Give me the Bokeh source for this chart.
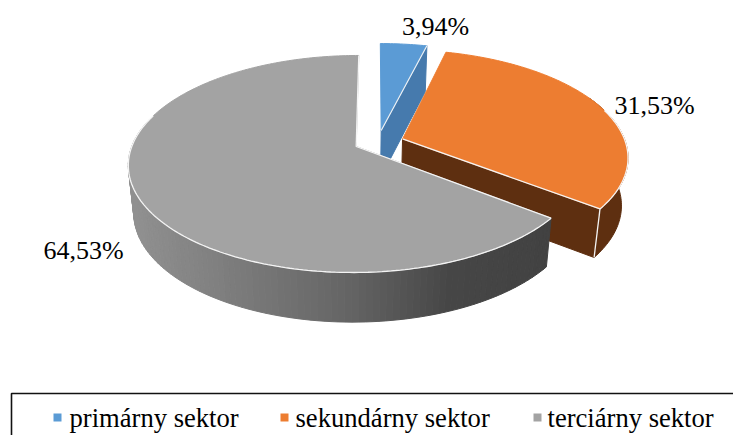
import math
from bokeh.core.properties import value
from bokeh.embed import file_html
from bokeh.models import Range1d
from bokeh.plotting import figure
from bokeh.resources import INLINE

# ---- data ----
sectors = ["primárny sektor", "sekundárny sektor", "terciárny sektor"]
shares = [3.94, 31.53, 64.53]
labels = ["3,94%", "31,53%", "64,53%"]

# ---- style ----
top_colors = ["#5b9bd5", "#ed7d31", "#a3a3a3"]
wall_colors = ["#467aad", "#5e2f10", "#666666"]
edge = "#f4f4f4"
FONT = value("Liberation Serif")
LABEL_SIZE = "26px"
LEGEND_SIZE = "26.6px"

# ---- projection of the tilted disc (pixel-like scale of the picture) ----
CX, CY = 355.7, 146.0
BX, SKEW, AY, K = 224.4, -3.0, 105.7, -0.161
BX_LOW, Y_LOW, AY_LOW = 219.0, 193.5, 107.5
explode = [(0.112, -0.155), (0.208, -0.072), (0.0, 0.0)]
label_pos = [(435, 26), (654, 105), (83, 250)]
legend_text_x = [69, 295, 547]
legend_swatch_x = [57, 284, 537]
LEGEND_Y = 417


def project(X, Y, low=False):
    w = 1 + K * Y
    bx = BX_LOW if low else BX
    y0 = Y_LOW if low else CY
    ay = AY_LOW if low else AY
    return CX + (bx * X + SKEW * Y) / w, y0 + ay * Y / w


def rim(a_deg, off, low=False):
    a = math.radians(a_deg)
    return project(off[0] + math.sin(a), off[1] - math.cos(a), low)


def arc(a0, a1, off, low=False, step=1.0):
    n = max(2, int(abs(a1 - a0) / step))
    return [rim(a0 + (a1 - a0) * i / n, off, low) for i in range(n + 1)]


def mix(stops, x):
    for (x0, c0), (x1, c1) in zip(stops, stops[1:]):
        if x <= x1:
            t = max(0.0, (x - x0) / (x1 - x0))
            return "#%02x%02x%02x" % tuple(round(a + (b - a) * t) for a, b in zip(c0, c1))
    return "#%02x%02x%02x" % stops[-1][1]


total = sum(shares)
start = [0.0]
for v in shares:
    start.append(start[-1] + 360.0 * v / total)

p = figure(width=733, height=435, output_backend="svg", toolbar_location=None,
           x_range=Range1d(0, 733), y_range=Range1d(435, 0), min_border=0)
p.axis.visible = False
p.grid.visible = False
p.outline_line_color = None
p.background_fill_color = "white"
p.border_fill_color = "white"


def poly(pts, fill, line=None, width=1.0):
    p.patch([q[0] for q in pts], [q[1] for q in pts], fill_color=fill,
            line_color=line if line else fill, line_width=width)


def seg(pts, width=1.3):
    p.line([q[0] for q in pts], [q[1] for q in pts], line_color=edge, line_width=width)


# --- primary slice ---
off = explode[0]
a0, a1 = start[0], start[1]
apex, apex_low = project(*off), project(*off, True)
poly([apex, rim(a1, off), rim(a1, off, True), apex_low], wall_colors[0])
poly([apex] + arc(a0, a1, off), top_colors[0])
seg([apex, rim(a1, off)], 1.1)

# --- secondary slice ---
off = explode[1]
a0, a1 = start[1], start[2]
apex, apex_low = project(*off), project(*off, True)
poly([apex, rim(a1, off), rim(a1, off, True), apex_low], wall_colors[1])
sil = a0 + 0.45 * (a1 - a0)
poly(arc(sil, a1, off) + arc(a1, sil, off, True), wall_colors[1])
poly([apex] + arc(a0, a1, off), top_colors[1])
seg([apex, rim(a1, off)])
seg(arc(a0 + 0.52 * (a1 - a0), a1, off))
seg([rim(a1, off), rim(a1, off, True)])

# --- tertiary slice ---
off = explode[2]
a0, a1 = start[2], start[3]
stops = [(133, (0x90, 0x90, 0x90)), (350, (0x64, 0x64, 0x64)),
         (450, (0x46, 0x46, 0x46)), (547, (0x42, 0x42, 0x42))]
a = a0
while a < 285:
    b = a + 1.5
    q0, q1, q2, q3 = rim(a, off), rim(b, off), rim(b, off, True), rim(a, off, True)
    poly([q0, q1, q2, q3], mix(stops, (q0[0] + q1[0]) / 2))
    a = b
apex = project(*off)
poly([apex] + arc(a0, a1, off), top_colors[2])
seg([rim(a1, off), apex, rim(a0, off)])
seg(arc(a0, a0 + 160, off))

# --- value labels ---
p.text([q[0] for q in label_pos], [q[1] for q in label_pos], text=labels,
       text_font=FONT, text_font_size=LABEL_SIZE, text_align="center",
       text_baseline="middle", text_color="#000000")

# --- legend ---
p.line([740, 11, 11], [393, 393, 445], line_color="#111111", line_width=1.6)
p.scatter(legend_swatch_x, [LEGEND_Y] * 3, marker="square", size=8,
          fill_color=top_colors, line_color=None)
p.text(legend_text_x, [LEGEND_Y] * 3, text=sectors, text_font=FONT,
       text_font_size=LEGEND_SIZE, text_align="left", text_baseline="middle",
       text_color="#000000")

open("out.html", "w").write(file_html(p, INLINE))
